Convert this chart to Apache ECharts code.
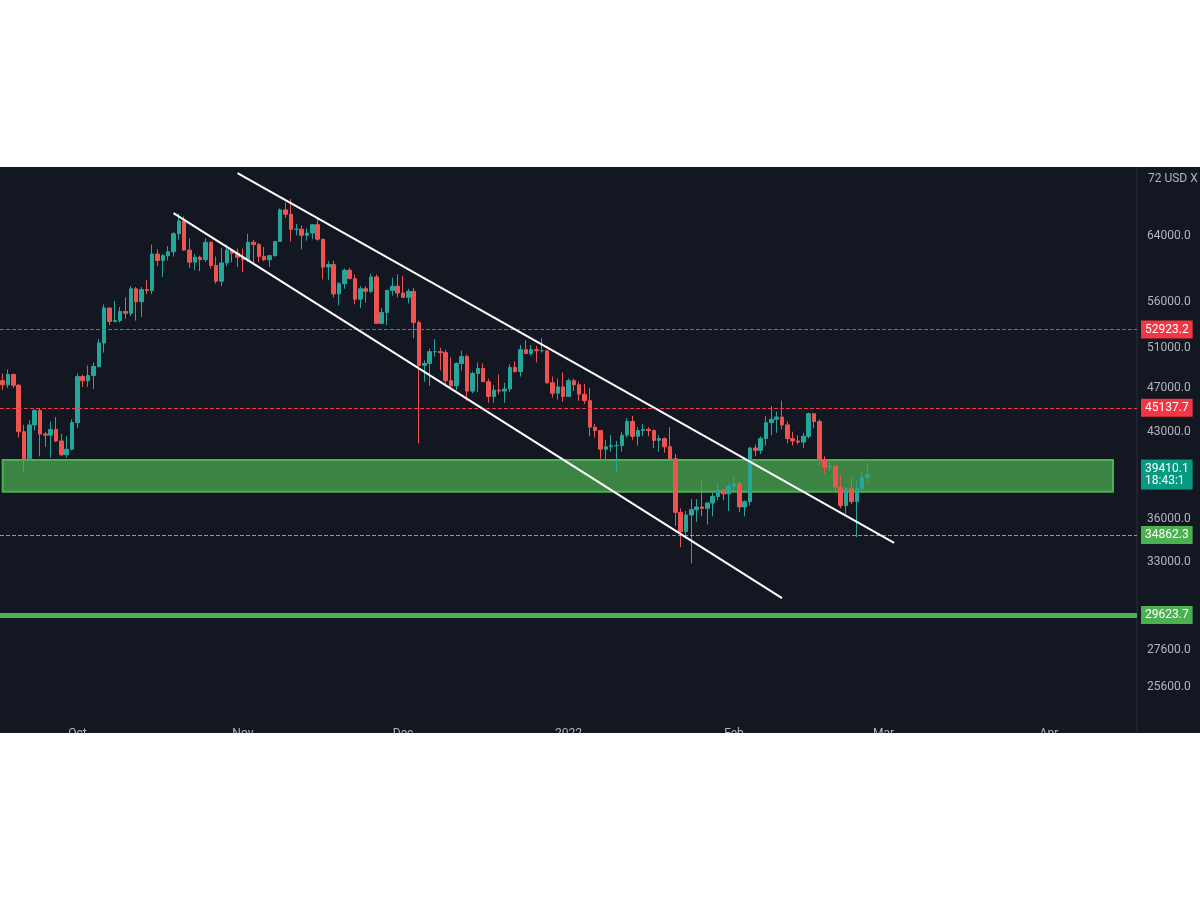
<!DOCTYPE html>
<html><head><meta charset="utf-8">
<script src="https://cdn.jsdelivr.net/npm/echarts@6/dist/echarts.min.js"></script>
<style>html,body{margin:0;padding:0;background:#fff}#c{width:1200px;height:898px}</style>
</head><body><div id="c"></div>
<script>
const startDate = '2021-09-17';
const closes = [47300,48300,47250,43000,40700,43600,44900,42800,42700,43200,42200,41030,41500,43800,
48100,47700,48200,49100,51500,55300,53800,53900,54900,54700,57500,56000,57400,57300,61700,60900,61500,62000,64300,66000,62200,60700,61300,61000,63200,60300,58400,60600,62200,61800,61300,
61000,63200,62900,61400,61000,61500,63300,67500,66900,64900,64900,64100,64400,65500,63600,60100,60400,56900,58100,59700,58700,56300,57500,57200,58900,53600,54800,57300,57800,57000,
56500,57200,53700,49200,49400,50600,50600,50500,47700,47200,49400,50100,46700,48400,48900,47600,46200,46800,46700,46900,49000,48600,50800,50400,50800,50700,50700,47500,46500,47100,46200,
47700,47300,46400,45800,43400,43100,41500,41700,41800,41800,42700,43900,42600,43100,43200,43100,42250,42400,41700,40700,36500,35100,36300,36700,36900,36800,37200,37700,38200,37900,38500,
38700,36900,37300,41600,41400,42400,43800,44100,44300,43600,42400,42200,42100,42600,44600,43900,40600,40000,40100,38400,37000,38300,37300,38300,39200,39410];
const highs = [48400,48800,48400,47400,43600,44000,45000,45100,43000,43900,44300,42800,42600,44100,
48400,48300,49200,49500,51900,55700,55300,56100,55400,56500,57800,57700,57700,58500,62900,62300,61700,62700,64500,67000,66600,63700,61700,61500,63700,63300,61400,62500,62900,62300,62400,
62400,64300,63500,63100,62600,61600,63300,67700,68500,69000,65600,65400,65000,65500,66300,63600,60800,60900,58300,59900,60000,59200,57800,57800,59300,59200,55300,57400,58800,59200,
59000,57500,57600,53900,49700,50900,51900,51000,50800,50000,49500,50700,50300,48600,49500,49400,47900,47300,48300,47500,49300,49600,51300,51800,51300,51200,52000,50700,48100,47900,48500,
47900,47900,47600,47400,47000,43700,43100,42300,42700,42200,43000,44200,44400,43400,43700,43400,43200,42700,42500,43400,41100,36800,36600,37500,37500,38900,37200,38000,38700,38300,38700,
39200,38900,37400,41700,41900,42600,44400,45300,44800,45800,43900,43000,42700,42900,44700,44600,44100,40900,40400,40100,39400,38400,39200,38900,39700,40300];
const lows = [46800,47000,47000,42500,39700,40500,43100,40900,41700,40800,42100,40900,40800,41400,
43300,47100,47100,46900,49000,50500,53400,53700,53700,54100,54400,53900,54300,56900,56900,60200,58900,60900,61400,63500,62100,60000,59700,59600,60700,59900,58100,57800,60200,60700,60100,
59500,60700,60400,60700,60800,60100,61400,63300,66400,63300,64100,62300,63400,63600,63400,58600,58500,56500,55600,57500,58600,55700,55300,55900,57000,53600,53600,53400,56700,56500,
56500,55800,52000,42000,47600,47200,50100,48700,47400,47000,46800,48700,45800,46500,46600,47600,45600,45600,46400,45600,46600,48500,48100,50400,50200,49500,50500,47400,46100,45900,45700,
46200,46700,45800,45500,42600,42500,40700,40500,41300,39600,41300,42500,42300,41800,42600,42600,41600,41300,41200,40600,35500,34000,34600,32900,35800,36200,35600,36200,37400,37400,36600,
38000,36500,36200,37000,40900,41100,41800,42700,42900,43200,42000,41800,41900,41600,42400,43300,40100,39500,39700,38100,36800,36400,37100,34700,38000,38700];
const firstOpen = 47700;
const tickValues = [64000,56000,51000,47000,43000,36000,33000,27600,25600];
const monthNames = {'2021-10-01':'Oct','2021-11-01':'Nov','2021-12-01':'Dec','2022-01-01':'2022','2022-02-01':'Feb','2022-03-01':'Mar','2022-04-01':'Apr'};
const levels = {r1:52923.2, r2:45137.7, cur:39410.1, s1:34862.3, s2:29623.7, zoneTop:40590, zoneBot:38060};
const upperTrend = [[44,72740],[167,34300]];
const lowerTrend = [[32,67060],[146,30660]];
const totalDays = 213;

const cats=[]; {const d=new Date(startDate+'T00:00:00Z'); for(let i=0;i<totalDays;i++){cats.push(d.toISOString().slice(0,10)); d.setUTCDate(d.getUTCDate()+1);}}
const ohlc = closes.map((c,i)=>[i===0?firstOpen:closes[i-1], c, lows[i], highs[i]]);

const lab = (txt,bg,fg)=>({show:true,position:'end',formatter:txt,color:fg||'#fff',backgroundColor:bg,padding:[3,4],fontSize:12,fontFamily:'Roboto',distance:4});
const hidden = {color:'rgba(0,0,0,0)',width:0};
const tickLines = tickValues.map(v=>({yAxis:v,lineStyle:hidden,label:{show:true,position:'end',formatter:v.toFixed(1),color:'#b2b5be',fontSize:12,fontFamily:'Roboto',distance:10}}));

const chart = echarts.init(document.getElementById('c'));
chart.setOption({
  backgroundColor:'#ffffff',
  animation:false,
  graphic:[
    {type:'rect',shape:{x:0,y:167,width:1200,height:566},style:{fill:'#131722'},z:-10,silent:true},
    {type:'line',shape:{x1:1137,y1:167,x2:1137,y2:733},style:{stroke:'#2a2e39',lineWidth:1},z:-5},
    {type:'text',left:1148,top:173,style:{text:'72 USD X',fill:'#b2b5be',font:'12px Roboto'}},
    {type:'rect',shape:{x:0,y:733,width:1200,height:165},style:{fill:'#ffffff'},z:1000,silent:true}
  ],
  grid:{left:0,right:63,top:167,bottom:178},
  xAxis:{type:'category',data:cats,boundaryGap:true,
    axisLine:{show:false},axisTick:{show:false},splitLine:{show:false},
    axisLabel:{interval:(i,v)=>!!monthNames[v],formatter:v=>monthNames[v]||'',color:'#b2b5be',fontSize:12,margin:8,fontFamily:'Roboto'}},
  yAxis:{type:'log',min:23930,max:73650,show:false,splitLine:{show:false}},
  series:[{
    type:'candlestick',data:ohlc,barWidth:4,
    itemStyle:{color:'#26a69a',color0:'#ef5350',borderColor:'#26a69a',borderColor0:'#ef5350'},
    markArea:{silent:true,itemStyle:{color:'rgba(76,175,80,0.72)',borderColor:'#4caf50',borderWidth:2},
      data:[[{coord:[0,levels.zoneTop]},{coord:[208,levels.zoneBot]}]]},
    markLine:{silent:true,symbol:'none',animation:false,data:[
      ...tickLines,
      {yAxis:levels.r1,lineStyle:{color:'#f23645',type:'dashed',width:1},label:lab('52923.2','#f23645')},
      {yAxis:levels.r2,lineStyle:{color:'#f23645',type:'dashed',width:1},label:lab('45137.7','#f23645')},
      {yAxis:levels.cur,lineStyle:hidden,label:lab('39410.1\n18:43:1','#089981')},
      {yAxis:levels.s1,lineStyle:{color:'#9598a1',type:'dashed',width:1},label:lab('34862.3','#4caf50')},
      {yAxis:levels.s2,lineStyle:{color:'#4caf50',type:'solid',width:5},label:lab('29623.7','#4caf50')},
      [{coord:upperTrend[0],lineStyle:{color:'#ffffff',width:2,type:'solid'},label:{show:false}},{coord:upperTrend[1]}],
      [{coord:lowerTrend[0],lineStyle:{color:'#ffffff',width:2,type:'solid'},label:{show:false}},{coord:lowerTrend[1]}]
    ]}
  }]
});
</script></body></html>
